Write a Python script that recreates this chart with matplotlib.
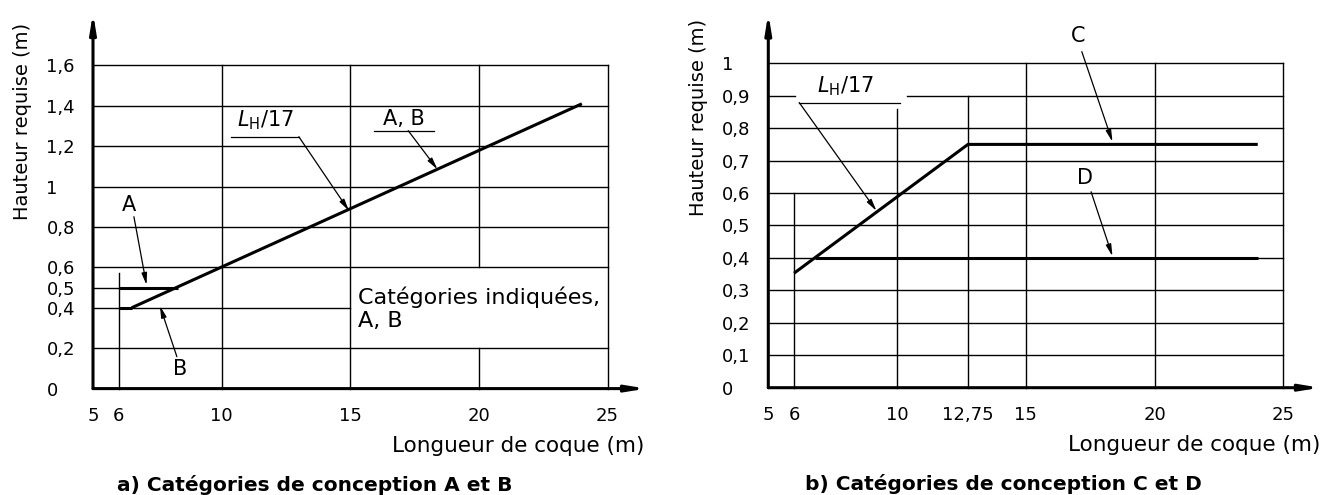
import matplotlib
matplotlib.use("Agg")
import matplotlib.pyplot as plt

# --- données du graphique a) : catégories A et B ---
a_ab_x = [6.5, 24.0]          # droite LH/17
a_ab_y = [0.4, 1.41]
a_a_x = [6.0, 8.3]            # palier A
a_a_y = [0.5, 0.5]
a_b_x = [6.0, 6.5]            # palier B
a_b_y = [0.4, 0.4]
a_xticks = [5, 6, 10, 15, 20, 25]
a_xlabels = ["5", "6", "10", "15", "20", "25"]
a_yticks = [0, 0.2, 0.4, 0.5, 0.6, 0.8, 1.0, 1.2, 1.4, 1.6]
a_ylabels = ["0", "0,2", "0,4", "0,5", "0,6", "0,8", "1", "1,2", "1,4", "1,6"]

# --- données du graphique b) : catégories C et D ---
b_c_x = [6.0, 12.75, 24.0]
b_c_y = [0.353, 0.75, 0.75]
b_d_x = [6.8, 24.0]
b_d_y = [0.4, 0.4]
b_xticks = [5, 6, 10, 12.75, 15, 20, 25]
b_xlabels = ["5", "6", "10", "12,75", "15", "20", "25"]
b_yticks = [0, 0.1, 0.2, 0.3, 0.4, 0.5, 0.6, 0.7, 0.8, 0.9, 1.0]
b_ylabels = ["0", "0,1", "0,2", "0,3", "0,4", "0,5", "0,6", "0,7", "0,8", "0,9", "1"]

# quadrillage : (valeur, début, fin)
a_hgrid = [(0.2, 5, 25), (0.4, 5, 15), (0.5, 5, 6), (0.6, 5, 25), (0.8, 5, 25),
           (1.0, 5, 25), (1.2, 5, 25), (1.4, 5, 25), (1.6, 5, 25)]
a_vgrid = [(6, 0, 0.57), (10, 0, 1.6), (15, 0, 1.6), (20, 0, 0.2),
           (20, 0.6, 1.6), (25, 0, 1.6)]
b_hgrid = [(0.1, 5, 25), (0.2, 5, 25), (0.3, 5, 25), (0.4, 5, 25), (0.5, 5, 25),
           (0.6, 5, 25), (0.7, 5, 25), (0.8, 5, 25), (0.9, 5, 6.03),
           (0.9, 10.37, 25), (1.0, 5, 25)]
b_vgrid = [(6, 0, 0.6), (10, 0, 0.86), (12.75, 0, 0.9), (15, 0, 1.0),
           (20, 0, 1.0), (25, 0, 1.0)]

W, H = 1326, 495
fig = plt.figure(figsize=(W / 100, H / 100), dpi=100)
plt.rcParams["font.family"] = ["DejaVu Sans"]


def fx(px):
    return px / W


def fy(py):
    return 1 - py / H


def panneau(rect, xlim, ylim, hgrid, vgrid, xticks, xlabels, yticks, ylabels,
            xmax_arrow, ymax_arrow):
    ax = fig.add_axes(rect)
    ax.set_xlim(*xlim)
    ax.set_ylim(*ylim)
    for s in ax.spines.values():
        s.set_visible(False)
    for y, x0, x1 in hgrid:
        ax.plot([x0, x1], [y, y], color="black", lw=1.0, clip_on=False)
    for x, y0, y1 in vgrid:
        ax.plot([x, x], [y0, y1], color="black", lw=1.0, clip_on=False)
    # axes avec flèches
    flèche = dict(arrowstyle="-|>,head_length=1.1,head_width=0.18",
                  lw=2.2, color="black", shrinkA=0, shrinkB=0)
    ax.annotate("", xy=(xmax_arrow, 0), xytext=(xlim[0], 0),
                arrowprops=flèche, annotation_clip=False)
    ax.annotate("", xy=(xlim[0], ymax_arrow), xytext=(xlim[0], 0),
                arrowprops=flèche, annotation_clip=False)
    ax.set_xticks(xticks, xlabels, fontsize=13)
    ax.set_yticks(yticks, ylabels, fontsize=13)
    ax.tick_params(axis="x", length=0, pad=13)
    ax.tick_params(axis="y", length=0, pad=33.5)
    for lbl in ax.get_yticklabels():
        lbl.set_horizontalalignment("left")
    return ax


flèche_fine = dict(arrowstyle="-|>,head_length=0.7,head_width=0.16",
                   lw=0.9, color="black", shrinkA=0, shrinkB=0)

# ---------------- graphique a) ----------------
ax1 = panneau([fx(93), fy(388.6), (607.6 - 93) / W, 323.2 / H],
              (5, 25), (0, 1.6), a_hgrid, a_vgrid,
              a_xticks, a_xlabels, a_yticks, a_ylabels, 26.5, 1.86)
ax1.plot(a_ab_x, a_ab_y, color="black", lw=2.2, solid_capstyle="butt")
ax1.plot(a_a_x, a_a_y, color="black", lw=2.2, solid_capstyle="butt")
ax1.plot(a_b_x, a_b_y, color="black", lw=2.2, solid_capstyle="butt")

# L_H/17
ax1.text(11.7, 1.33, r"$L_{\mathrm{H}}$/17", fontsize=15, ha="center", va="center")
ax1.plot([10.35, 13.0], [1.247, 1.247], color="black", lw=0.9)
ax1.annotate("", xy=(14.95, 0.88), xytext=(13.0, 1.247), arrowprops=flèche_fine)
# A, B
ax1.text(17.1, 1.335, "A, B", fontsize=15, ha="center", va="center")
ax1.plot([15.94, 18.26], [1.277, 1.277], color="black", lw=0.9)
ax1.annotate("", xy=(18.39, 1.085), xytext=(17.25, 1.277), arrowprops=flèche_fine)
# A
ax1.text(6.38, 0.909, "A", fontsize=15, ha="center", va="center")
ax1.annotate("", xy=(7.08, 0.513), xytext=(6.59, 0.851), arrowprops=flèche_fine)
# B
ax1.text(8.37, 0.097, "B", fontsize=15, ha="center", va="center")
ax1.annotate("", xy=(7.6, 0.41), xytext=(8.26, 0.158), arrowprops=flèche_fine)
# texte
ax1.text(15.3, 0.395, "Catégories indiquées,\nA, B", fontsize=16,
         ha="left", va="center", linespacing=1.2)

# ---------------- graphique b) ----------------
ax2 = panneau([fx(768.3), fy(387.7), (1283.5 - 768.3) / W, 324.4 / H],
              (5, 25), (0, 1.0), b_hgrid, b_vgrid,
              b_xticks, b_xlabels, b_yticks, b_ylabels, 26.42, 1.154)
ax2.plot(b_c_x, b_c_y, color="black", lw=2.2, solid_capstyle="butt")
ax2.plot(b_d_x, b_d_y, color="black", lw=2.2, solid_capstyle="butt")

ax2.text(7.98, 0.93, r"$L_{\mathrm{H}}$/17", fontsize=15, ha="center", va="center")
ax2.plot([6.2, 10.13], [0.879, 0.879], color="black", lw=0.9)
ax2.annotate("", xy=(9.2, 0.545), xytext=(6.2, 0.879), arrowprops=flèche_fine)
ax2.text(17.04, 1.084, "C", fontsize=15, ha="center", va="center")
ax2.annotate("", xy=(18.36, 0.758), xytext=(17.17, 1.036), arrowprops=flèche_fine)
ax2.text(17.29, 0.646, "D", fontsize=15, ha="center", va="center")
ax2.annotate("", xy=(18.36, 0.405), xytext=(17.53, 0.604), arrowprops=flèche_fine)

# titres des axes
for cx, cy in [(23, 121), (698, 117)]:
    fig.text(fx(cx), fy(cy), "Hauteur requise (m)", rotation=90,
             ha="center", va="center", fontsize=14)
for rx, cy in [(644, 446), (1320, 445)]:
    fig.text(fx(rx), fy(cy), "Longueur de coque (m)", ha="right",
             va="center", fontsize=15.5)

# légendes sous les graphiques
fig.text(fx(314.6), fy(485), "a) Catégories de conception A et B",
         ha="center", va="center", fontsize=14.5, fontweight="bold")
fig.text(fx(1003), fy(484), "b) Catégories de conception C et D",
         ha="center", va="center", fontsize=14.5, fontweight="bold")

fig.savefig("out.png", dpi=100)
